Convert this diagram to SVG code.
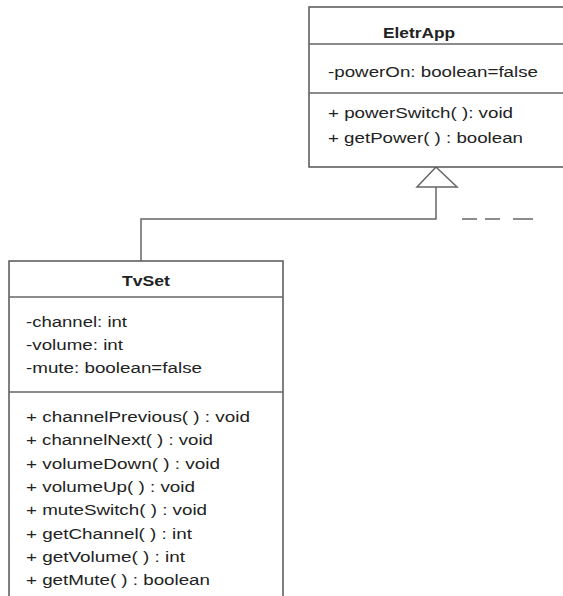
<svg xmlns="http://www.w3.org/2000/svg" width="563" height="596" viewBox="0 0 563 596">
<style>
.box{fill:#fff;stroke:#555;stroke-width:1.5}
.sep{stroke:#666;stroke-width:1.5}
.t{font-family:"Liberation Sans",Arial,sans-serif;font-size:15.5px;fill:#222}
.b{font-weight:bold;text-anchor:middle}
.c{fill:none;stroke:#666;stroke-width:1.5}
</style>
<rect width="563" height="596" fill="#fff"/>
<g id="connectors">
<polyline class="c" points="141,261 141,219 436,219 436,187"/>
<polygon class="c" points="436,167 417,187 457,187" fill="#fff"/>
<line class="c" x1="462" y1="219" x2="477" y2="219"/>
<line class="c" x1="485" y1="219" x2="500" y2="219"/>
<line class="c" x1="513" y1="219" x2="533" y2="219"/>
</g>
<g id="EletrApp">
<rect class="box" x="309" y="7" width="270" height="160"/>
<line class="sep" x1="309" y1="44" x2="563" y2="44"/>
<line class="sep" x1="309" y1="93" x2="563" y2="93"/>
<text class="t b" x="419" y="38" textLength="72" lengthAdjust="spacingAndGlyphs">EletrApp</text>
<text class="t" x="328" y="77" textLength="210" lengthAdjust="spacingAndGlyphs">-powerOn: boolean=false</text>
<text class="t" x="328" y="118" textLength="185" lengthAdjust="spacingAndGlyphs">+ powerSwitch( ): void</text>
<text class="t" x="328" y="143" textLength="195" lengthAdjust="spacingAndGlyphs">+ getPower( ) : boolean</text>
</g>
<g id="TvSet">
<rect class="box" x="9" y="261" width="274" height="345"/>
<line class="sep" x1="9" y1="297" x2="283" y2="297"/>
<line class="sep" x1="9" y1="392" x2="283" y2="392"/>
<text class="t b" x="146" y="286" textLength="48" lengthAdjust="spacingAndGlyphs">TvSet</text>
<text class="t" x="26" y="327" textLength="101" lengthAdjust="spacingAndGlyphs">-channel: int</text>
<text class="t" x="26" y="350" textLength="97" lengthAdjust="spacingAndGlyphs">-volume: int</text>
<text class="t" x="26" y="373" textLength="176" lengthAdjust="spacingAndGlyphs">-mute: boolean=false</text>
<text class="t" x="26" y="422" textLength="224" lengthAdjust="spacingAndGlyphs">+ channelPrevious( ) : void</text>
<text class="t" x="26" y="445" textLength="187" lengthAdjust="spacingAndGlyphs">+ channelNext( ) : void</text>
<text class="t" x="26" y="469" textLength="194" lengthAdjust="spacingAndGlyphs">+ volumeDown( ) : void</text>
<text class="t" x="26" y="492" textLength="169" lengthAdjust="spacingAndGlyphs">+ volumeUp( ) : void</text>
<text class="t" x="26" y="515" textLength="181" lengthAdjust="spacingAndGlyphs">+ muteSwitch( ) : void</text>
<text class="t" x="26" y="539" textLength="166" lengthAdjust="spacingAndGlyphs">+ getChannel( ) : int</text>
<text class="t" x="26" y="562" textLength="159" lengthAdjust="spacingAndGlyphs">+ getVolume( ) : int</text>
<text class="t" x="26" y="585" textLength="184" lengthAdjust="spacingAndGlyphs">+ getMute( ) : boolean</text>
</g>
</svg>
